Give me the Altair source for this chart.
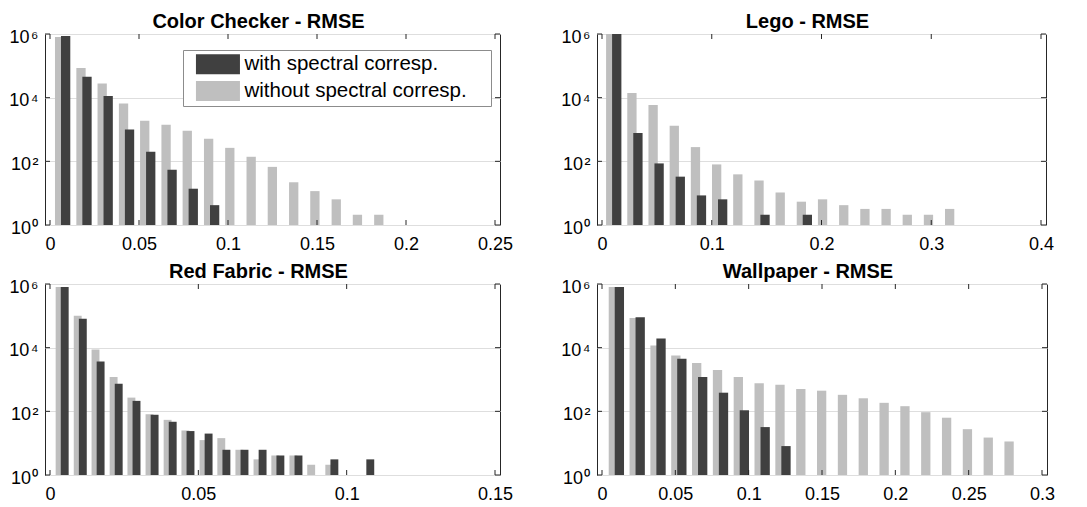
import altair as alt
import pandas as pd

WITH_LABEL = "with spectral corresp."
WITHOUT_LABEL = "without spectral corresp."
DARK = "#404040"
LIGHT = "#bfbfbf"
FRAME = "#262626"
FONT = "Liberation Sans"

# ---- data (bin centres and counts) ----
cc_centers = [0.0071, 0.0191, 0.0310, 0.0430, 0.0549, 0.0669, 0.0788, 0.0908, 0.1027, 0.1147,
              0.1266, 0.1386, 0.1505, 0.1625, 0.1744, 0.1864, 0.1983, 0.2103, 0.2222, 0.2342]
cc_without = [8.0e5, 8.5e4, 2.8e4, 6.5e3, 1.9e3, 1.4e3, 910, 510, 265, 139,
              67, 22, 11.6, 6.4, 2.1, 2.1, 1, 1, 1, 1]
cc_with = [8.7e5, 4.5e4, 1.13e4, 1000, 200, 54, 13.8, 4.2, 0, 0,
           0, 0, 0, 0, 0, 0, 0, 0, 0, 0]

lego_centers = [0.0107, 0.0300, 0.0493, 0.0686, 0.0879, 0.1072, 0.1265, 0.1458, 0.1651, 0.1844,
                0.2037, 0.2230, 0.2423, 0.2616, 0.2809, 0.3002, 0.3195, 0.3388, 0.3581, 0.3774]
lego_without = [1e6, 1.4e4, 5.9e3, 1.3e3, 280, 80, 39, 25, 10.5, 5.4,
                6.4, 4.2, 3.2, 3.2, 2.1, 2.1, 3.2, 1, 1, 1]
lego_with = [1e6, 780, 86, 33, 8.5, 6.4, 0, 2.1, 0, 2.1,
             0, 0, 0, 0, 0, 0, 0, 0, 0, 0]

rf_centers = [0.0041, 0.0102, 0.0162, 0.0223, 0.0283, 0.0344, 0.0405, 0.0465, 0.0526, 0.0586,
              0.0647, 0.0708, 0.0768, 0.0829, 0.0889, 0.0950, 0.1011, 0.1071, 0.1132, 0.1192]
rf_without = [8.1e5, 1.0e5, 8.7e3, 1.2e3, 270, 81, 54, 25, 12.5, 14.4,
              6.2, 3.1, 4.1, 4.1, 2.1, 2.1, 1, 0, 1, 1]
rf_with = [8.1e5, 8.1e4, 3.7e3, 730, 213, 78, 47, 24, 20, 6.2,
           6.2, 6.2, 4.1, 4.1, 0, 3.1, 0, 3.1, 0, 0]

wp_centers = [0.0098, 0.0240, 0.0382, 0.0524, 0.0666, 0.0808, 0.0950, 0.1092, 0.1234, 0.1376,
              0.1518, 0.1660, 0.1802, 0.1944, 0.2086, 0.2228, 0.2370, 0.2512, 0.2654, 0.2796]
wp_without = [8.1e5, 8.5e4, 1.18e4, 5.7e3, 3.3e3, 2.0e3, 1.2e3, 760, 690, 500,
              445, 330, 257, 185, 145, 94, 63, 27.5, 15, 11.3]
wp_with = [8.1e5, 9.1e4, 1.95e4, 4.5e3, 1.2e3, 385, 108, 32, 8.1, 0,
           0, 0, 0, 0, 0, 0, 0, 0, 0, 0]

titles = ["Color Checker - RMSE", "Lego - RMSE", "Red Fabric - RMSE", "Wallpaper - RMSE"]

cc_xticks = [0, 0.05, 0.1, 0.15, 0.2, 0.25]
lego_xticks = [0, 0.1, 0.2, 0.3, 0.4]
rf_xticks = [0, 0.05, 0.1, 0.15]
wp_xticks = [0, 0.05, 0.1, 0.15, 0.2, 0.25, 0.3]

y_tick_values = [1, 100, 10000, 1000000]
y_tick_labels = ["10\u200a\u2070", "10\u200a\u00b2", "10\u200a\u2074", "10\u200a\u2076"]

H = 191

label_expr = " : ".join(
    f"abs(datum.value - {v}) < {v} * 0.01 ? '{lab}'" for v, lab in zip(y_tick_values, y_tick_labels)
) + " : ''"


def panel(title, centers, without, with_, xticks, width, barw, off, legend):
    df_l = pd.DataFrame({"x": centers, "v": without, "s": WITHOUT_LABEL})
    df_d = pd.DataFrame({"x": centers, "v": with_, "s": WITH_LABEL})
    df_l = df_l[df_l["v"] > 0]
    df_d = df_d[df_d["v"] > 0]

    xenc = alt.X(
        "x:Q",
        scale=alt.Scale(domain=[xticks[0], xticks[-1]], nice=False, zero=False),
        axis=alt.Axis(values=xticks, format="~g", grid=False, ticks=False, domain=False,
                      labelPadding=10, title=None, labelFlush=False),
    )
    yenc = alt.Y(
        "v:Q",
        scale=alt.Scale(type="log", domain=[1, 1e6], nice=False, clamp=True),
        axis=alt.Axis(values=y_tick_values, labelExpr=label_expr, grid=True, ticks=False,
                      domain=False, labelPadding=7, title=None, minExtent=36, maxExtent=36,
                      labelOffset=3),
    )
    if legend:
        col = alt.Color(
            "s:N",
            scale=alt.Scale(domain=[WITH_LABEL, WITHOUT_LABEL], range=[DARK, LIGHT]),
            legend=alt.Legend(
                title=None, orient="none", legendX=138, legendY=16,
                symbolType="M-0.13,-1H4.27V1H-0.13Z M28.9,0L28.9,0", symbolSize=400,
                symbolStrokeWidth=0, symbolOpacity=1,
                labelFont=FONT, labelFontSize=20.5, labelColor="#000000",
                labelOffset=37, rowPadding=5.7, padding=4,
                strokeColor="#8c8c8c", fillColor="white", labelLimit=500,
            ),
        )
        cl, cd = col, col
    else:
        cl, cd = alt.value(LIGHT), alt.value(DARK)

    light = alt.Chart(df_l).mark_bar(size=barw, xOffset=-off).encode(
        x=xenc, y=yenc, y2=alt.datum(1), color=cl)
    dark = alt.Chart(df_d).mark_bar(size=barw, xOffset=off).encode(
        x=xenc, y=yenc, y2=alt.datum(1), color=cd)

    xt = pd.DataFrame({"x": xticks})
    yt = pd.DataFrame({"v": y_tick_values})
    tick_top = alt.Chart(xt).mark_rule(color=FRAME, strokeWidth=1).encode(
        x=xenc, y=alt.value(0), y2=alt.value(5))
    tick_bot = alt.Chart(xt).mark_rule(color=FRAME, strokeWidth=1).encode(
        x=xenc, y=alt.value(H - 5), y2=alt.value(H))
    tick_l = alt.Chart(yt).mark_rule(color=FRAME, strokeWidth=1).encode(
        y=yenc, x=alt.value(0), x2=alt.value(5))
    tick_r = alt.Chart(yt).mark_rule(color=FRAME, strokeWidth=1).encode(
        y=yenc, x=alt.value(width - 5), x2=alt.value(width))

    return alt.layer(light, dark, tick_top, tick_bot, tick_l, tick_r).properties(
        width=width, height=H, title=title)


p1 = panel(titles[0], cc_centers, cc_without, cc_with, cc_xticks, 455, 9.3, 3.0, True)
p2 = panel(titles[1], lego_centers, lego_without, lego_with, lego_xticks, 449, 9.3, 3.0, False)
p3 = panel(titles[2], rf_centers, rf_without, rf_with, rf_xticks, 455, 7.9, 2.55, False)
p4 = panel(titles[3], wp_centers, wp_without, wp_with, wp_xticks, 450, 9.3, 3.0, False)

chart = alt.concat(
    p1, p2, p3, p4, columns=2, spacing={"row": 59, "column": 97}, bounds="flush"
).resolve_legend(
    color="independent"
).properties(
    padding={"left": 8, "top": 11, "right": 5, "bottom": 5},
    background="white",
).configure_view(
    stroke=FRAME, strokeWidth=1
).configure_axis(
    labelFont=FONT, labelFontSize=18, labelColor="#000000",
    gridColor="#dedede", gridWidth=1,
).configure_title(
    font=FONT, fontSize=20, fontWeight="bold", color="#000000", offset=8,
    anchor="middle", baseline="alphabetic", frame="group", dx=-14, dy=12,
)

chart.save("out.html", embed_options={"renderer": "svg", "actions": False})
